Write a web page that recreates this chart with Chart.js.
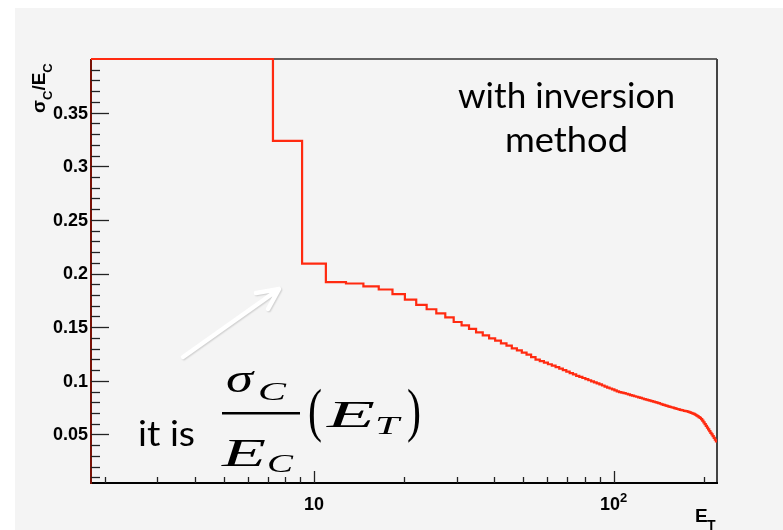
<!DOCTYPE html>
<html>
<head>
<meta charset="utf-8">
<script src="https://cdn.jsdelivr.net/npm/chart.js@4/dist/chart.umd.min.js"></script>
<style>
html,body{margin:0;padding:0;background:#fff}
</style>
</head>
<body>
<canvas id="c" width="783" height="530"></canvas>
<script>
// histogram definition: 120 equal bins between histLow and histHigh
const histLow = 1.8;
const histHigh = 221.4;

// sigma_C / E_C per bin
const sigmaOverE = [
  0.4000, 0.4000, 0.4000, 0.3236, 0.2093, 0.1919, 0.1907, 0.1881, 0.1851, 0.1807,
  0.1757, 0.1707, 0.1667, 0.1629, 0.1592, 0.1548, 0.1517, 0.1483, 0.1452, 0.1424,
  0.1396, 0.1374, 0.1349, 0.1328, 0.1303, 0.1284, 0.1262, 0.1244, 0.1221, 0.1197,
  0.1184, 0.1170, 0.1154, 0.1141, 0.1127, 0.1113, 0.1100, 0.1086, 0.1072, 0.1059,
  0.1046, 0.1036, 0.1026, 0.1015, 0.1005, 0.0995, 0.0985, 0.0975, 0.0966, 0.0956,
  0.0946, 0.0937, 0.0928, 0.0919, 0.0910, 0.0901, 0.0895, 0.0890, 0.0884, 0.0879,
  0.0873, 0.0867, 0.0862, 0.0856, 0.0851, 0.0845, 0.0840, 0.0835, 0.0829, 0.0824,
  0.0819, 0.0815, 0.0810, 0.0805, 0.0801, 0.0796, 0.0791, 0.0786, 0.0780, 0.0775,
  0.0770, 0.0766, 0.0762, 0.0757, 0.0753, 0.0749, 0.0745, 0.0741, 0.0737, 0.0733,
  0.0729, 0.0726, 0.0723, 0.0720, 0.0717, 0.0714, 0.0710, 0.0705, 0.0700, 0.0696,
  0.0691, 0.0685, 0.0678, 0.0670, 0.0662, 0.0654, 0.0642, 0.0628, 0.0612, 0.0596,
  0.0579, 0.0563, 0.0547, 0.0531, 0.0515, 0.0500, 0.0484, 0.0467, 0.0450, 0.0434
];

const yTicks = [0.05, 0.1, 0.15, 0.2, 0.25, 0.3, 0.35];
const yTickLabels = ["0.05", "0.1", "0.15", "0.2", "0.25", "0.3", "0.35"];
const xTicks = [10, 100];
const xTickBase = ["10", "10"];
const xTickExp = ["", "2"];
const xMinorTicks = [2, 3, 4, 5, 6, 7, 8, 9, 20, 30, 40, 50, 60, 70, 80, 90, 200];

const nb = sigmaOverE.length;
const bw = (histHigh - histLow) / nb;
let pts = [];
for (let i = 0; i < nb; i++) {
  pts.push({x: histLow + i * bw, y: sigmaOverE[i]});
}
pts.push({x: histHigh, y: sigmaOverE[nb - 1]});

function fitText(ctx, txt, left, base, w, font) {
  ctx.font = font;
  const m = ctx.measureText(txt).width;
  ctx.save();
  ctx.translate(left, base);
  ctx.scale(w / m, 1);
  ctx.textAlign = "left";
  ctx.textBaseline = "alphabetic";
  ctx.fillText(txt, 0, 0);
  ctx.restore();
}

const rootStyle = {
  id: "rootStyle",
  beforeDraw(chart) {
    const ctx = chart.ctx;
    ctx.save();
    ctx.fillStyle = "#ffffff";
    ctx.fillRect(0, 0, chart.width, chart.height);
    ctx.fillStyle = "#f4f4f4";
    ctx.fillRect(15, 8, chart.width - 15, chart.height - 8);
    ctx.restore();
  },
  beforeDatasetsDraw(chart) {
    const ctx = chart.ctx;
    const a = chart.chartArea;
    const xs = chart.scales.x, ys = chart.scales.y;
    ctx.save();
    // frame
    ctx.lineWidth = 1.5;
    ctx.strokeStyle = "#333";
    ctx.beginPath();
    ctx.moveTo(a.left, a.top); ctx.lineTo(a.right, a.top);
    ctx.stroke();
    ctx.lineWidth = 2;
    ctx.strokeStyle = "#444";
    ctx.beginPath();
    ctx.moveTo(a.right, a.top); ctx.lineTo(a.right, a.bottom);
    ctx.stroke();
    ctx.strokeStyle = "#000";
    ctx.beginPath();
    ctx.moveTo(a.left, a.bottom); ctx.lineTo(a.right + 1, a.bottom);
    ctx.stroke();
    ctx.strokeStyle = "#7a1206";
    ctx.beginPath();
    ctx.moveTo(a.left, a.top); ctx.lineTo(a.left, a.bottom + 1);
    ctx.stroke();

    // y ticks
    ctx.lineWidth = 1.3;
    ctx.strokeStyle = "#222";
    for (let k = 1; k < 40; k++) {
      const v = k / 100;
      const py = Math.round(ys.getPixelForValue(v)) + 0.5;
      const len = (k % 5 === 0) ? 18 : 9;
      ctx.beginPath();
      ctx.moveTo(a.left, py); ctx.lineTo(a.left + len, py);
      ctx.stroke();
    }
    // x ticks
    xMinorTicks.forEach(v => {
      const px = Math.round(xs.getPixelForValue(v)) + 0.5;
      ctx.beginPath();
      ctx.moveTo(px, a.bottom); ctx.lineTo(px, a.bottom - 6);
      ctx.stroke();
    });
    xTicks.forEach(v => {
      const px = Math.round(xs.getPixelForValue(v)) + 0.5;
      ctx.beginPath();
      ctx.moveTo(px, a.bottom); ctx.lineTo(px, a.bottom - 12);
      ctx.stroke();
    });

    // tick labels
    const lab = "bold 18px 'Liberation Sans', Arial, sans-serif";
    ctx.fillStyle = "#000";
    ctx.font = lab;
    ctx.textAlign = "right";
    ctx.textBaseline = "middle";
    yTicks.forEach((v, i) => {
      ctx.fillText(yTickLabels[i], a.left - 3, ys.getPixelForValue(v) + 1);
    });
    ctx.textAlign = "left";
    ctx.textBaseline = "alphabetic";
    xTicks.forEach((v, i) => {
      const px = xs.getPixelForValue(v);
      ctx.font = lab;
      const w1 = ctx.measureText(xTickBase[i]).width;
      ctx.font = "bold 13px 'Liberation Sans', Arial, sans-serif";
      const w2 = xTickExp[i] ? ctx.measureText(xTickExp[i]).width : 0;
      const x0 = px - (w1 + w2) / 2;
      ctx.font = lab;
      ctx.fillText(xTickBase[i], x0, a.bottom + 27);
      if (xTickExp[i]) {
        ctx.font = "bold 13px 'Liberation Sans', Arial, sans-serif";
        ctx.fillText(xTickExp[i], x0 + w1, a.bottom + 19);
      }
    });

    // x title E_T
    ctx.font = "bold 19px 'Liberation Sans', Arial, sans-serif";
    ctx.fillText("E", 695, 522);
    ctx.font = "bold 14px 'Liberation Sans', Arial, sans-serif";
    ctx.fillText("T", 707, 530);

    // y title sigma_C / E_C
    ctx.save();
    ctx.translate(45, 113);
    ctx.rotate(-Math.PI / 2);
    let x = 0;
    const big = "bold 19px 'Liberation Sans', Arial, sans-serif";
    const small = "bold 13px 'Liberation Sans', Arial, sans-serif";
    const parts = [["\u03c3", big, 0], ["C", small, 7], ["/", big, 0], ["E", big, 0], ["C", small, 7]];
    parts.forEach(p => {
      ctx.font = p[1];
      ctx.fillText(p[0], x, p[2]);
      x += ctx.measureText(p[0]).width;
    });
    ctx.restore();
    ctx.restore();
  },
  afterDraw(chart) {
    const ctx = chart.ctx;
    ctx.save();
    ctx.fillStyle = "#000";
    const sans = "'Lato', 'Open Sans', sans-serif";
    fitText(ctx, "with inversion", 458, 108, 217, "34px " + sans);
    fitText(ctx, "method", 505, 152, 123, "34px " + sans);
    fitText(ctx, "it is", 138, 446, 57, "34px " + sans);

    // formula sigma_C / E_C (E_T)
    const serif = "'Liberation Serif', 'DejaVu Serif', serif";
    fitText(ctx, "\u03c3", 226, 392, 27, "italic 40px " + serif);
    fitText(ctx, "C", 258, 400, 28, "italic 25px " + serif);
    ctx.fillRect(222, 412, 78, 2.5);
    fitText(ctx, "E", 222, 466, 44, "italic 40px " + serif);
    fitText(ctx, "C", 267, 472, 26, "italic 25px " + serif);
    fitText(ctx, "(", 308, 430, 14, "60px " + serif);
    fitText(ctx, "E", 327, 427, 48, "italic 38px " + serif);
    fitText(ctx, "T", 375, 434, 24, "italic 26px " + serif);
    fitText(ctx, ")", 407, 430, 14, "60px " + serif);

    // white arrow
    ctx.strokeStyle = "#ffffff";
    ctx.lineWidth = 4.5;
    ctx.lineCap = "round";
    ctx.lineJoin = "round";
    ctx.shadowColor = "rgba(0,0,0,0.15)";
    ctx.shadowBlur = 1.5;
    ctx.shadowOffsetX = 1;
    ctx.shadowOffsetY = 1;
    ctx.beginPath();
    ctx.moveTo(183, 357); ctx.lineTo(279, 289);
    ctx.moveTo(256, 293); ctx.lineTo(279, 289); ctx.lineTo(268, 309);
    ctx.stroke();
    ctx.restore();
  }
};

const chart = new Chart(document.getElementById("c"), {
  type: "line",
  data: {
    datasets: [{
      data: pts,
      stepped: "before",
      borderColor: "#ff2a10",
      borderWidth: 2.2,
      pointRadius: 0,
      fill: false,
      clip: 4
    }]
  },
  options: {
    responsive: false,
    animation: false,
    devicePixelRatio: 1,
    layout: {padding: {left: 91, right: 66, top: 59, bottom: 47}},
    scales: {
      x: {type: "logarithmic", min: histLow, max: histHigh, display: false},
      y: {type: "linear", min: 0.0047, max: 0.4, display: false}
    },
    plugins: {legend: {display: false}, tooltip: {enabled: false}}
  },
  plugins: [rootStyle]
});
</script>
</body>
</html>
